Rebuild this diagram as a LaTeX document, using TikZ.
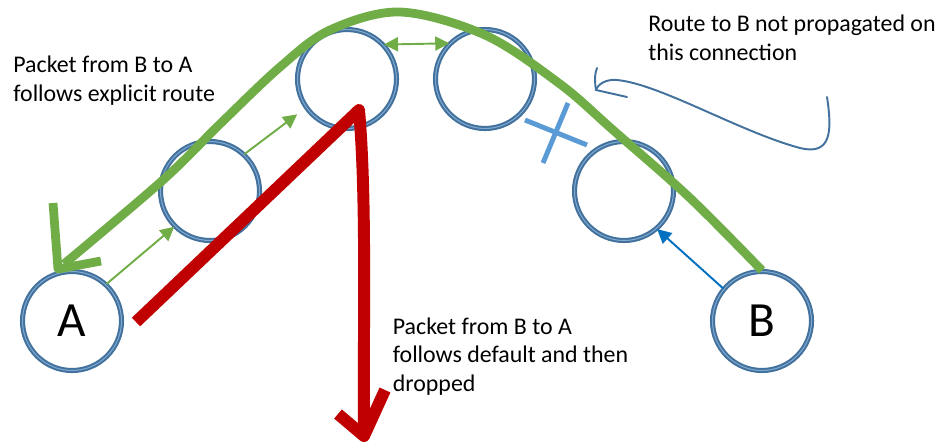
\documentclass[tikz,border=0pt]{standalone}
\usepackage{fontspec}
\setmainfont{Carlito}
\usetikzlibrary{arrows.meta}
\definecolor{ringblue}{HTML}{41719C}
\definecolor{ringlight}{HTML}{7FA8D0}
\definecolor{routegreen}{HTML}{70AD47}
\definecolor{dropred}{HTML}{C00000}
\definecolor{linkblue}{HTML}{0070C0}
\definecolor{cutblue}{HTML}{5B9BD5}
\begin{document}
\begin{tikzpicture}[x=0.02cm,y=-0.02cm,>={Triangle[length=8pt,width=8pt]}]
 	\def \rowtop{79}
 	\def \rowmid{191}
 	\def \rowlow{321}

 	\tikzstyle{router}=[circle,draw=ringblue,double=ringlight,double distance=0.6pt,line width=1.15pt,minimum size=1.98cm,inner sep=0pt]
 	\tikzstyle{hop}=[->,draw=routegreen,line width=1.1pt]
 	\tikzstyle{route}=[draw=routegreen,line width=5pt,line join=round]
 	\tikzstyle{drop}=[draw=dropred,line width=6.8pt,line join=round]
 	\tikzstyle{cut}=[draw=cutblue,line width=2.8pt]
 	\tikzstyle{callout}=[draw=ringblue,line width=1.1pt,line cap=round]
 	% base anchor sits on the last line
 	\tikzstyle{note}=[align=left,anchor=base west,inner sep=0pt,font=\fontsize{13.6}{16.4}\selectfont]

 	\useasboundingbox (0,0) rectangle (943,444);

 	% routers
 	\node[router,font=\fontsize{28}{30}\selectfont] (a) at (72,\rowlow) {A};
 	\node[router] (r1) at (210,\rowmid) {};
 	\node[router] (r2) at (347,\rowtop) {};
 	\node[router] (r3) at (485,\rowtop) {};
 	\node[router] (r4) at (624,\rowmid) {};
 	\node[router,font=\fontsize{28}{30}\selectfont] (b) at (762,\rowlow) {B};

 	% labels
 	\node[note] (lbl-explicit) at (13,101.7) {Packet from B to A\\follows explicit route};
 	\node[note] (lbl-dropped) at (392.5,391.7) {Packet from B to A\\follows default and then\\dropped};
 	\node[note] (lbl-unprop) at (648,60) {Route to B not propagated on\\this connection};

 	% propagated routes
 	\path
 		(a.47)	edge[hop]	(r1.225)
 		(r1.47)	edge[hop,shorten >=6pt]	(r2.215)
 		(r2.43)	edge[hop,<->]	(r3.135)
 		(b.140)	edge[hop,draw=linkblue,fill=linkblue]	(r4.311);

 	% explicit route back to A
 	\draw[route] plot[smooth,tension=0.55] coordinates {(b.north) (690,198) (613,130) (560,84) (485,35) (400,12) (330,30) (280,67) (220,124) (163,180) (64,264)};
 	\draw[route] (53,203) -- (58,269) -- (101,261);

 	% default route, dropped
 	\coordinate (drop-start) at (136,322);
 	\coordinate (drop-top) at (359,110);
 	\coordinate (drop-end) at (364,436);
 	\draw[drop] (drop-start) -- (drop-top) .. controls (367,200) and (363,330) .. (drop-end);
 	\draw[drop] (338,414) -- (drop-end) -- (385,390);

 	% no propagation
 	\draw[cut] (525,120) -- (587,145);
 	\draw[cut] (568,103) -- (543,163);
 	\coordinate (note-tail) at (827,97);
 	\coordinate (note-tip) at (596,90);
 	\draw[callout] (note-tail) .. controls (832,130) and (832,156) .. (800,148) .. controls (740,132) and (660,84) .. (617,80) .. controls (606,79) and (598,84) .. (note-tip);
 	\draw[callout] (597,68) .. controls (594,76) and (595,84) .. (note-tip) -- (627,97);
 \end{tikzpicture}
\end{document}
